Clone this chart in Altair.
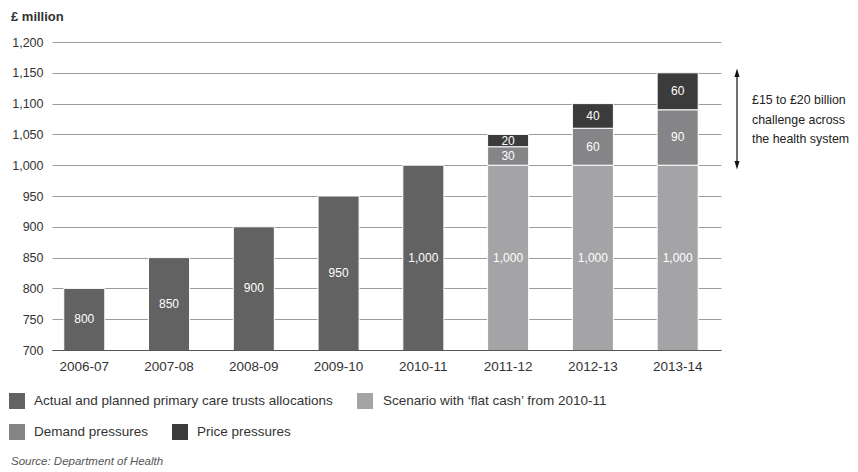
import altair as alt
import pandas as pd

# ---- data -------------------------------------------------------------
years = ["2006-07", "2007-08", "2008-09", "2009-10", "2010-11", "2011-12", "2012-13", "2013-14"]
actual = [800, 850, 900, 950, 1000, None, None, None]
scenario = [None, None, None, None, None, 1000, 1000, 1000]
demand = [None, None, None, None, None, 30, 60, 90]
price = [None, None, None, None, None, 20, 40, 60]

series_names = [
    "Actual and planned primary care trusts allocations",
    "Scenario with \u2018flat cash\u2019 from 2010-11",
    "Demand pressures",
    "Price pressures",
]
series_colors = ["#626262", "#a4a4a6", "#858587", "#3b3b3b"]

y_ticks = [700, 750, 800, 850, 900, 950, 1000, 1050, 1100, 1150, 1200]
arrow_range = [1000, 1150]
annotation = "\u00a315 to \u00a320 billion\nchallenge across\nthe health system"
source_text = "Source: Department of Health"
unit_label = "\u00a3 million"

FONT = "Liberation Sans"
AXIS_MIN = 700

# ---- build stacked table ---------------------------------------------
rows = []
for i, yr in enumerate(years):
    start = 0
    for name, vals in zip(series_names, [actual, scenario, demand, price]):
        v = vals[i]
        if v is None:
            continue
        end = start + v
        vis_start = max(start, AXIS_MIN)
        rows.append({
            "year": yr, "series": name, "start": start, "end": end,
            "mid": (vis_start + end) / 2, "label": f"{v:,}",
        })
        start = end
df = pd.DataFrame(rows)

x_scale = alt.Scale(paddingInner=0.516, paddingOuter=0.204, align=0.34)
x_enc = alt.X("year:N", sort=years, title=None, scale=x_scale,
              axis=alt.Axis(labelAngle=0, labelFontSize=13.5, labelColor="#333333",
                            labelFont=FONT, labelPadding=9, ticks=False,
                            domainColor="#555555", domainWidth=1.2, grid=False))
y_scale = alt.Scale(domain=[700, 1200], zero=False, nice=False)

bars = alt.Chart(df).mark_bar(clip=True, stroke="white", strokeWidth=1).encode(
    x=x_enc,
    y=alt.Y("start:Q", scale=y_scale, title=None,
            axis=alt.Axis(values=y_ticks, format=",d", labelFontSize=12.5, labelFont=FONT,
                          labelColor="#333333", labelPadding=9, ticks=False, domain=False,
                          labelOverlap=False, labelFlush=False,
                          grid=True, gridColor="#9c9c9c", gridWidth=1)),
    y2="end:Q",
    color=alt.Color("series:N", scale=alt.Scale(domain=series_names, range=series_colors),
                    legend=None),
)

labels = alt.Chart(df).mark_text(color="white", font=FONT, fontSize=12).encode(
    x=alt.X("year:N", sort=years, scale=x_scale, axis=None),
    y=alt.Y("mid:Q", scale=y_scale, axis=None),
    text="label:N",
)

arrow_df = pd.DataFrame({"lo": [arrow_range[0]], "hi": [arrow_range[1]]})
ARROW_X = 685
arrow_line = alt.Chart(arrow_df).mark_rule(color="#111111", strokeWidth=1.2).encode(
    x=alt.value(ARROW_X), y=alt.Y("lo:Q", scale=y_scale, axis=None), y2="hi:Q")
head_df = pd.DataFrame({"v": arrow_range, "shape": ["M-0.6,-1L0.6,-1L0,1Z", "M-0.6,1L0.6,1L0,-1Z"]})
heads = alt.Chart(head_df).mark_point(filled=True, color="#111111", size=70, opacity=1).encode(
    x=alt.value(ARROW_X), y=alt.Y("v:Q", scale=y_scale, axis=None),
    shape=alt.Shape("shape:N", scale=None, legend=None))

ann_df = pd.DataFrame({"t": [annotation]})
ann = alt.Chart(ann_df).mark_text(align="left", baseline="middle", lineBreak="\n",
                                  lineHeight=19.5, font=FONT, fontSize=12.4,
                                  color="#222222").encode(
    x=alt.value(700), y=alt.value(58), text="t:N")

title_df = pd.DataFrame({"t": [unit_label]})
unit = alt.Chart(title_df).mark_text(align="left", baseline="middle", font=FONT,
                                     fontSize=13, fontWeight="bold", color="#333333").encode(
    x=alt.value(-41), y=alt.value(-25), text="t:N")

# legend (manual flow layout)
leg_df = pd.DataFrame({
    "series": series_names,
    "sx": [-35, 313, -35, 128],
    "tx": [-18, 331, -18, 145],
    "ly": [359, 359, 390, 390],
})
leg_sq = alt.Chart(leg_df).mark_square(size=256, opacity=1).encode(
    x=alt.X("sx:Q", scale=None, axis=None), y=alt.Y("ly:Q", scale=None, axis=None),
    color=alt.Color("series:N", scale=alt.Scale(domain=series_names, range=series_colors),
                    legend=None))
leg_tx = alt.Chart(leg_df).mark_text(align="left", baseline="middle", font=FONT,
                                     fontSize=13.5, color="#333333").encode(
    x=alt.X("tx:Q", scale=None, axis=None), y=alt.Y("ly:Q", scale=None, axis=None),
    text="series:N")

src_df = pd.DataFrame({"t": [source_text]})
src = alt.Chart(src_df).mark_text(align="left", baseline="middle", font=FONT, fontSize=11.5,
                                  fontStyle="italic", color="#555555").encode(
    x=alt.value(-41), y=alt.value(420), text="t:N")

chart = alt.layer(bars, labels, arrow_line, heads, ann, unit, leg_sq, leg_tx, src).resolve_axis(
    x="independent", y="independent"
).properties(
    width=669, height=308,
    padding={"left": 1, "top": 3, "right": 0, "bottom": 0},
).configure(background="white").configure_view(stroke=None)

chart.save("out.html", embed_options={"renderer": "svg", "actions": False})
